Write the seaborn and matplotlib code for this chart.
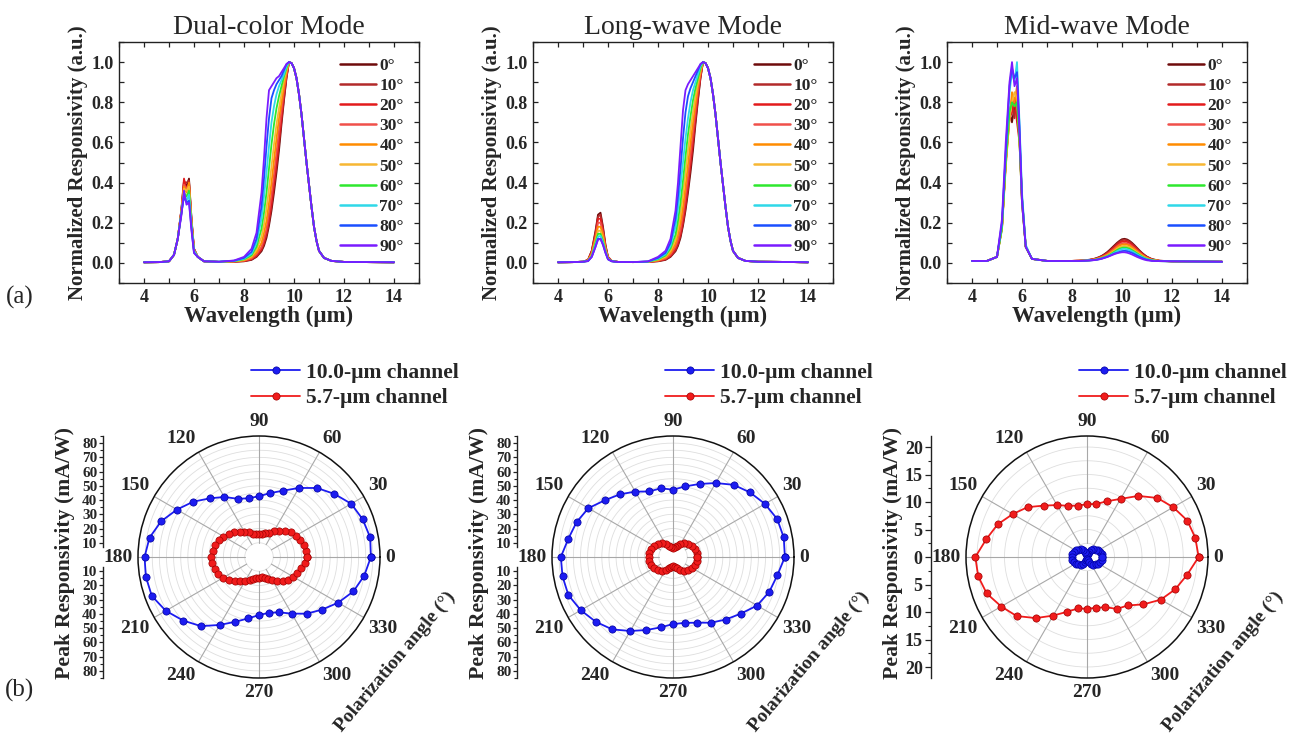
import numpy as np
import pandas as pd
import matplotlib
matplotlib.use('Agg')
import matplotlib.pyplot as plt
import seaborn as sns
from matplotlib.lines import Line2D
from matplotlib.ticker import MultipleLocator, FixedLocator

# ------------------------------------------------------------------ data
ANGLES = [0, 10, 20, 30, 40, 50, 60, 70, 80, 90]
ANGLE_LABELS = ['0°', '10°', '20°', '30°', '40°', '50°', '60°', '70°', '80°', '90°']
ANGLE_COLORS = ['#6e0b0b', '#b22a2a', '#e31a1c', '#f0504a', '#ff8c00',
                '#f7b733', '#2ee82e', '#2fd8e8', '#1a4fff', '#7a1cff']

PANEL_TITLES = ['Dual-color Mode', 'Long-wave Mode', 'Mid-wave Mode']

WL_MW = [4.0, 4.6, 5.0, 5.2, 5.35, 5.5, 5.6, 5.7, 5.8, 5.9, 6.0, 6.15, 6.4, 7.0, 7.6]
WL_FLANK = [8.0, 8.3, 8.5, 8.7, 8.8, 8.9, 9.0, 9.1, 9.2, 9.3, 9.4, 9.5, 9.6, 9.7]
WL_TAIL = [9.8, 9.9, 10.0, 10.1, 10.2, 10.3, 10.4, 10.5, 10.6, 10.7, 10.8, 10.9,
           11.0, 11.2, 11.5, 12.0, 13.0, 14.0]

DUAL_MW = [
    [.003, .004, .008, .04, .12, .27, .41, .38, .42, .22, .07, .03, .008, .005, .006],
    [.003, .004, .008, .04, .12, .27, .40, .40, .41, .22, .07, .03, .008, .005, .006],
    [.003, .004, .008, .04, .12, .27, .42, .36, .40, .21, .07, .03, .008, .005, .007],
    [.003, .004, .008, .04, .12, .26, .39, .37, .39, .21, .07, .03, .008, .005, .007],
    [.003, .004, .008, .04, .12, .26, .38, .35, .40, .20, .06, .03, .008, .005, .008],
    [.003, .004, .008, .04, .12, .26, .37, .36, .38, .20, .06, .03, .008, .005, .008],
    [.003, .004, .008, .04, .12, .25, .35, .33, .36, .19, .06, .03, .008, .006, .009],
    [.003, .004, .008, .04, .12, .25, .34, .31, .34, .18, .06, .03, .008, .006, .010],
    [.003, .004, .008, .04, .12, .25, .33, .30, .31, .17, .05, .03, .008, .006, .011],
    [.003, .004, .008, .04, .12, .24, .36, .29, .30, .16, .05, .03, .008, .006, .012],
]
DUAL_FLANK = [
    [.008, .015, .030, .058, .085, .125, .185, .26, .35, .45, .56, .69, .81, .92],
    [.009, .017, .033, .065, .095, .14, .20, .28, .38, .48, .59, .71, .82, .925],
    [.010, .019, .037, .07, .105, .15, .22, .30, .40, .50, .61, .73, .84, .93],
    [.011, .022, .043, .08, .12, .17, .25, .34, .44, .55, .66, .76, .86, .94],
    [.013, .027, .052, .10, .15, .21, .30, .40, .51, .62, .72, .80, .88, .95],
    [.015, .032, .065, .13, .19, .27, .37, .48, .59, .69, .77, .84, .91, .96],
    [.018, .038, .08, .17, .25, .35, .47, .59, .69, .77, .83, .88, .93, .97],
    [.021, .045, .10, .22, .33, .45, .58, .70, .78, .84, .88, .91, .94, .98],
    [.025, .055, .12, .28, .42, .58, .72, .82, .86, .89, .91, .93, .96, .99],
    [.030, .07, .15, .35, .52, .72, .86, .88, .90, .92, .93, .95, .97, .99],
]
DUAL_TAIL = [1.0, .995, .97, .92, .84, .74, .62, .50, .39, .28, .18, .11, .06,
             .025, .01, .005, .004, .003]

LONG_MW = [
    [.003, .004, .006, .015, .060, .16, .240, .250, .18, .090, .030, .010, .005, .004, .005],
    [.003, .004, .006, .015, .060, .15, .230, .240, .17, .085, .030, .010, .005, .004, .005],
    [.003, .004, .006, .014, .055, .14, .220, .220, .16, .080, .028, .010, .005, .004, .005],
    [.003, .004, .006, .013, .050, .13, .200, .200, .15, .075, .026, .010, .005, .004, .005],
    [.003, .004, .006, .012, .045, .12, .180, .180, .14, .070, .024, .010, .005, .004, .006],
    [.003, .004, .006, .011, .040, .11, .160, .160, .12, .065, .022, .009, .005, .004, .006],
    [.003, .004, .006, .010, .035, .10, .145, .145, .11, .060, .020, .009, .005, .004, .006],
    [.003, .004, .006, .010, .032, .09, .130, .135, .10, .055, .019, .008, .005, .004, .007],
    [.003, .004, .006, .009, .030, .08, .120, .120, .09, .050, .018, .008, .005, .004, .007],
    [.003, .004, .006, .009, .030, .08, .115, .120, .09, .050, .018, .008, .005, .004, .008],
]
LONG_FLANK = [
    [.008, .015, .030, .058, .085, .125, .185, .26, .35, .45, .56, .69, .81, .92],
    [.009, .017, .033, .063, .092, .135, .195, .275, .37, .48, .59, .71, .82, .925],
    [.010, .019, .036, .07, .10, .145, .21, .29, .39, .50, .61, .73, .84, .93],
    [.011, .022, .042, .08, .115, .165, .24, .33, .43, .54, .65, .76, .86, .94],
    [.013, .026, .05, .095, .14, .20, .28, .38, .49, .60, .70, .79, .88, .95],
    [.015, .031, .06, .115, .17, .24, .34, .45, .56, .66, .75, .83, .90, .96],
    [.018, .037, .072, .14, .21, .30, .41, .53, .64, .73, .81, .87, .92, .97],
    [.021, .043, .085, .18, .27, .38, .50, .62, .72, .80, .86, .90, .94, .98],
    [.025, .05, .10, .22, .33, .47, .62, .75, .83, .87, .90, .93, .96, .99],
    [.030, .06, .12, .26, .40, .58, .76, .86, .89, .91, .93, .95, .97, .99],
]
LONG_TAIL = [1.0, .995, .97, .92, .84, .74, .62, .50, .39, .28, .18, .11, .06,
             .025, .01, .006, .005, .003]

MID_MW = [
    [.01, .01, .03, .18, .50, .75, .70, .78, .74, .62, .32, .08, .02, .01, .01],
    [.01, .01, .03, .18, .50, .76, .80, .72, .85, .62, .32, .08, .02, .01, .01],
    [.01, .01, .03, .18, .50, .72, .75, .82, .70, .60, .30, .08, .02, .01, .01],
    [.01, .01, .03, .18, .50, .74, .82, .78, .80, .62, .32, .08, .02, .01, .01],
    [.01, .01, .03, .17, .48, .72, .85, .80, .88, .62, .33, .08, .02, .01, .01],
    [.01, .01, .03, .17, .48, .72, .80, .85, .82, .60, .30, .08, .02, .01, .01],
    [.01, .01, .03, .17, .50, .75, .80, .78, .80, .60, .30, .08, .02, .01, .01],
    [.01, .01, .03, .20, .55, .85, .95, .90, 1.0, .70, .35, .09, .02, .01, .01],
    [.01, .01, .03, .20, .55, .88, .97, .92, .95, .68, .33, .08, .02, .01, .01],
    [.01, .01, .03, .22, .60, .90, 1.0, .88, .92, .65, .30, .08, .02, .01, .01],
]
MID_FLANK = [
    [.010, .011, .013, .016, .018, .021, .025, .030, .036, .044, .053, .064, .076, .088],
    [.010, .011, .013, .015, .017, .020, .024, .028, .034, .041, .050, .060, .071, .083],
    [.010, .011, .012, .015, .017, .019, .022, .027, .032, .039, .047, .056, .067, .078],
    [.010, .011, .012, .014, .016, .018, .021, .025, .030, .036, .043, .052, .062, .072],
    [.010, .011, .012, .014, .015, .017, .020, .024, .028, .034, .040, .048, .057, .066],
    [.010, .010, .012, .013, .015, .016, .019, .022, .026, .031, .037, .044, .052, .061],
    [.010, .010, .011, .013, .014, .016, .018, .021, .025, .029, .034, .040, .048, .056],
    [.010, .010, .011, .013, .014, .015, .017, .020, .023, .027, .032, .037, .044, .051],
    [.010, .010, .011, .012, .013, .015, .016, .019, .022, .026, .030, .035, .041, .047],
    [.010, .010, .011, .012, .013, .014, .016, .018, .021, .025, .029, .034, .039, .044],
]
MID_TAIL = [
    [.100, .110, .118, .120, .117, .110, .100, .088, .075, .062, .050, .040, .031, .019, .011, .008, .007, .006],
    [.095, .106, .113, .115, .112, .106, .095, .084, .072, .060, .048, .038, .030, .018, .011, .008, .007, .006],
    [.090, .099, .106, .108, .105, .099, .090, .079, .067, .056, .045, .036, .028, .017, .010, .008, .007, .006],
    [.083, .092, .098, .100, .097, .092, .083, .073, .062, .052, .042, .033, .026, .016, .010, .008, .007, .006],
    [.077, .086, .091, .093, .091, .086, .077, .068, .058, .048, .039, .031, .024, .015, .010, .008, .007, .006],
    [.071, .078, .083, .085, .083, .078, .071, .062, .053, .044, .036, .028, .022, .014, .010, .008, .007, .006],
    [.064, .071, .075, .077, .075, .071, .064, .056, .048, .040, .032, .025, .020, .013, .009, .008, .007, .006],
    [.058, .064, .069, .070, .068, .064, .058, .051, .043, .036, .029, .023, .018, .012, .009, .008, .007, .006],
    [.050, .055, .059, .060, .059, .055, .050, .044, .037, .031, .025, .020, .016, .011, .009, .008, .007, .006],
    [.048, .051, .053, .053, .051, .047, .042, .036, .030, .025, .020, .016, .013, .010, .009, .008, .007, .006],
]

SPECTRA = [(DUAL_MW, DUAL_FLANK, DUAL_TAIL),
           (LONG_MW, LONG_FLANK, LONG_TAIL),
           (MID_MW, MID_FLANK, MID_TAIL)]

# polar data (Peak responsivity, mA/W) vs polarization angle (deg)
THETA_10 = list(range(0, 360, 10))
THETA_7P5 = [i * 7.5 for i in range(48)]

P1_BLUE = [78.6, 79.3, 77.5, 74.8, 69.0, 63.3, 56.0, 49.6, 45.6, 42.7, 41.9, 43.5,
           48.7, 53.8, 60.4, 66.6, 73.2, 78.1, 80.4, 80.7, 80.1, 75.6, 69.5, 63.4,
           55.1, 48.4, 43.8, 40.8, 39.8, 41.4, 45.9, 52.0, 57.6, 64.2, 70.6, 75.1]
P1_RED = [33.4, 33.2, 32.5, 31.5, 29.8, 28.3, 26.0, 23.2, 21.0, 18.6, 17.2, 16.4,
          16.1, 16.3, 17.0, 18.7, 20.6, 22.4, 24.4, 26.6, 28.8, 30.3, 31.7, 32.7,
          33.6, 33.0, 32.0, 31.0, 29.0, 27.0, 24.3, 21.6, 19.2, 17.2, 15.7, 14.9,
          14.5, 14.5, 15.2, 16.4, 18.4, 21.0, 23.6, 26.0, 27.7, 29.2, 30.9, 32.4]
P2_BLUE = [78.6, 79.0, 77.9, 74.6, 70.6, 66.2, 60.0, 54.6, 50.4, 47.3, 49.0, 49.0,
           53.0, 57.6, 62.2, 68.6, 72.0, 74.6, 78.8, 78.8, 78.2, 74.8, 70.8, 66.4,
           60.0, 54.6, 50.2, 47.1, 47.0, 49.1, 53.3, 57.4, 62.0, 68.2, 71.9, 74.4]
P2_RED = [17.0, 16.8, 16.2, 15.2, 14.0, 12.5, 10.5, 8.5, 7.0, 6.5, 7.0, 8.5,
          10.5, 12.5, 14.0, 15.2, 16.2, 16.8, 17.0, 16.8, 16.2, 15.2, 14.0, 12.5,
          10.5, 8.5, 7.0, 6.5, 7.0, 8.5, 10.5, 12.5, 14.0, 15.2, 16.2, 16.8]
P3_RED = [20.3, 20.0, 19.4, 18.1, 16.7, 14.5, 12.2, 10.8, 9.8, 9.6, 9.5, 9.9,
          10.9, 12.2, 14.1, 15.6, 17.3, 18.6, 20.3, 20.1, 19.4, 18.0, 16.7, 14.5,
          12.3, 10.6, 9.5, 9.4, 9.4, 9.7, 10.9, 11.5, 13.4, 15.5, 17.1, 18.5]
P3_BLUE = [2.8, 2.75, 2.6, 2.4, 2.1, 1.8, 1.4, 1.0, 0.6, 0.4, 0.6, 1.0,
           1.4, 1.8, 2.1, 2.4, 2.6, 2.75, 2.8, 2.75, 2.6, 2.4, 2.1, 1.8,
           1.4, 1.0, 0.6, 0.4, 0.6, 1.0, 1.4, 1.8, 2.1, 2.4, 2.6, 2.75]

POLAR_SETS = [
    dict(blue=(THETA_10, P1_BLUE), red=(THETA_7P5, P1_RED), rmax=85, rmin_grid=10),
    dict(blue=(THETA_10, P2_BLUE), red=(THETA_10, P2_RED), rmax=85, rmin_grid=10),
    dict(blue=(THETA_10, P3_BLUE), red=(THETA_10, P3_RED), rmax=22, rmin_grid=2.5),
]
THETA_TICKS = [0, 30, 60, 90, 120, 150, 180, 210, 240, 270, 300, 330]
CH_LABELS = ['10.0-µm channel', '5.7-µm channel']
BLUE = '#1c1cf0'
RED = '#f01c1c'

# ------------------------------------------------------------------ style
sns.set_theme(style='ticks')
SERIF = ['Liberation Serif', 'DejaVu Serif']
plt.rcParams['font.family'] = SERIF

W, H = 1294, 734
fig = plt.figure(figsize=(W / 100, H / 100), dpi=100)


def fx(x):
    return x / W


def fy(y):
    return 1 - y / H


# ------------------------------------------------------------------ top row
top_left = [119, 533, 947]
for p in range(3):
    ax = fig.add_axes([fx(top_left[p]), fy(283), 300 / W, 241 / H])
    mw, flank, tail = SPECTRA[p]
    rows = []
    wl = WL_MW + WL_FLANK + WL_TAIL
    for i, ang in enumerate(ANGLES):
        tail_vals = tail[i] if isinstance(tail[0], list) else tail
        vals = mw[i] + flank[i] + list(tail_vals)
        for w_, v_ in zip(wl, vals):
            rows.append((ANGLE_LABELS[i], w_, v_))
    df = pd.DataFrame(rows, columns=['angle', 'wl', 'resp'])
    sns.lineplot(data=df, x='wl', y='resp', hue='angle', palette=ANGLE_COLORS,
                 hue_order=ANGLE_LABELS, ax=ax, legend=False, linewidth=1.3,
                 estimator=None, sort=True)
    ax.set_xlim(3, 15)
    ax.set_ylim(-0.1, 1.1)
    ax.xaxis.set_major_locator(FixedLocator([4, 6, 8, 10, 12, 14]))
    ax.xaxis.set_minor_locator(MultipleLocator(1))
    ax.yaxis.set_major_locator(FixedLocator([0.0, 0.2, 0.4, 0.6, 0.8, 1.0]))
    ax.yaxis.set_minor_locator(MultipleLocator(0.1))
    ax.set_yticklabels(['0.0', '0.2', '0.4', '0.6', '0.8', '1.0'])
    ax.tick_params(which='both', direction='in', top=True, right=True,
                   length=3.5, width=0.9, labelsize=13, pad=4, color='#222222')
    for lab in ax.get_xticklabels() + ax.get_yticklabels():
        lab.set_fontweight('bold')
    for s in ax.spines.values():
        s.set_linewidth(1.0)
        s.set_color('#222222')
    ax.set_xlabel('Wavelength (µm)', fontsize=16.5, fontweight='bold', labelpad=0)
    ax.set_ylabel('Normalized Responsivity (a.u.)', fontsize=15, fontweight='bold', labelpad=2)
    ax.set_title(PANEL_TITLES[p], fontsize=20, pad=6)
    handles = [Line2D([], [], color=c, lw=1.8) for c in ANGLE_COLORS]
    ax.legend(handles, ANGLE_LABELS, loc='upper right', bbox_to_anchor=(0.95, 0.935),
              frameon=False, handlelength=2.1, handletextpad=0.2,
              labelspacing=0.23, borderaxespad=0, borderpad=0,
              prop=dict(family=SERIF, weight='bold', size=12.5))

# ------------------------------------------------------------------ bottom row
centers = [259, 673, 1087]
R_PX = 121
for p in range(3):
    cx, cy = centers[p], 557
    cfg = POLAR_SETS[p]
    rmax = cfg['rmax']
    ax = fig.add_axes([fx(cx - R_PX), fy(cy + R_PX), 2 * R_PX / W, 2 * R_PX / H],
                      projection='polar')
    ax.set_ylim(0, rmax)
    ax.grid(False)
    ax.set_yticks([])
    ax.set_xticks([])
    circ = np.linspace(0, 2 * np.pi, 361)
    rr = cfg['rmin_grid']
    gstep = 5 if rmax > 50 else 2.5
    while rr < rmax - 1e-6:
        ax.plot(circ, np.full_like(circ, rr), color='#dedede', lw=0.6, zorder=1)
        rr += gstep
    for a in THETA_TICKS:
        ax.plot([np.deg2rad(a)] * 2, [cfg['rmin_grid'], rmax], color='#a8a8a8', lw=0.8, zorder=1)
    # angle labels placed just outside the circle
    for a in THETA_TICKS:
        c, s = np.cos(np.deg2rad(a)), np.sin(np.deg2rad(a))
        ha = 'center' if abs(c) < 0.1 else ('left' if c > 0 else 'right')
        va = 'center' if abs(s) < 0.1 else ('bottom' if s > 0 else 'top')
        off = 4.0
        ax.annotate(str(a), xy=(np.deg2rad(a), rmax), xytext=(off * c, off * s),
                    textcoords='offset points', ha=ha, va=va, fontsize=14,
                    fontweight='bold', annotation_clip=False)
    ax.spines['polar'].set_linewidth(1.1)
    ax.spines['polar'].set_color('#111111')

    for key, col, ecol in (('blue', BLUE, '#0000a0'), ('red', RED, '#a00000')):
        th, rv = cfg[key]
        th = list(th) + [360]
        rv = list(rv) + [rv[0]]
        sns.lineplot(x=np.deg2rad(th), y=rv, ax=ax, sort=False, estimator=None,
                     color=col, lw=1.3, marker='o', markersize=5.2,
                     markeredgecolor=ecol, markeredgewidth=0.5, zorder=3)
    ax.set_xlabel('')
    ax.set_ylabel('')

    hs = [Line2D([], [], color=BLUE, lw=1.3, marker='o', markersize=5.2,
                 markeredgecolor='#0000a0', markeredgewidth=0.5),
          Line2D([], [], color=RED, lw=1.3, marker='o', markersize=5.2,
                 markeredgecolor='#a00000', markeredgewidth=0.5)]
    fig.legend(hs, CH_LABELS, loc='upper left',
               bbox_to_anchor=(fx(cx - 19), fy(352)), frameon=False,
               handlelength=2.3, handletextpad=0.25, labelspacing=0.25, borderpad=0,
               prop=dict(family=SERIF, weight='bold', size=15.5))

    sx = cx - 156
    if rmax > 50:
        for half in (0, 1):
            if half == 0:
                axr = fig.add_axes([fx(sx), fy(cy), 0.0005, R_PX / H])
                axr.set_ylim(0, rmax)
            else:
                axr = fig.add_axes([fx(sx), fy(cy + R_PX), 0.0005, R_PX / H])
                axr.set_ylim(rmax, 0)
            axr.patch.set_visible(False)
            for s in ('top', 'right', 'bottom'):
                axr.spines[s].set_visible(False)
            axr.spines['left'].set_bounds(7, rmax)
            axr.spines['left'].set_linewidth(1.0)
            axr.spines['left'].set_color('#222222')
            axr.set_xticks([])
            axr.yaxis.set_major_locator(FixedLocator(list(range(10, 81, 10))))
            axr.yaxis.set_minor_locator(FixedLocator(list(range(15, 86, 10))))
            axr.tick_params(axis='y', which='major', direction='out', length=3,
                            width=0.9, labelsize=11, pad=1, color='#222222')
            axr.tick_params(axis='y', which='minor', direction='out', length=2,
                            width=0.8, color='#222222')
            for lab in axr.get_yticklabels():
                lab.set_fontweight('bold')
    else:
        axr = fig.add_axes([fx(sx), fy(cy + R_PX), 0.0005, 2 * R_PX / H])
        axr.set_ylim(-rmax, rmax)
        axr.patch.set_visible(False)
        for s in ('top', 'right', 'bottom'):
            axr.spines[s].set_visible(False)
        axr.spines['left'].set_linewidth(1.0)
        axr.spines['left'].set_color('#222222')
        axr.set_xticks([])
        ticks = [-20, -15, -10, -5, 0, 5, 10, 15, 20]
        axr.yaxis.set_major_locator(FixedLocator(ticks))
        axr.yaxis.set_minor_locator(MultipleLocator(2.5))
        axr.set_yticklabels([str(abs(t)) for t in ticks])
        axr.tick_params(axis='y', which='major', direction='out', length=4,
                        width=0.9, labelsize=13, pad=2, color='#222222')
        axr.tick_params(axis='y', which='minor', direction='out', length=2,
                        width=0.8, color='#222222')
        for lab in axr.get_yticklabels():
            lab.set_fontweight('bold')

    fig.text(fx(cx - 194), fy(553), 'Peak Responsivity (mA/W)', rotation=90,
             ha='center', va='center', fontsize=15.7, fontweight='bold')
    fig.text(fx(cx + 136), fy(662), 'Polarization angle (°)', rotation=50,
             ha='center', va='center', fontsize=14, fontweight='bold')

fig.text(fx(20), fy(297), '(a)', fontsize=18, ha='center', va='center')
fig.text(fx(20), fy(690), '(b)', fontsize=18, ha='center', va='center')

fig.savefig('out.png', dpi=100)
